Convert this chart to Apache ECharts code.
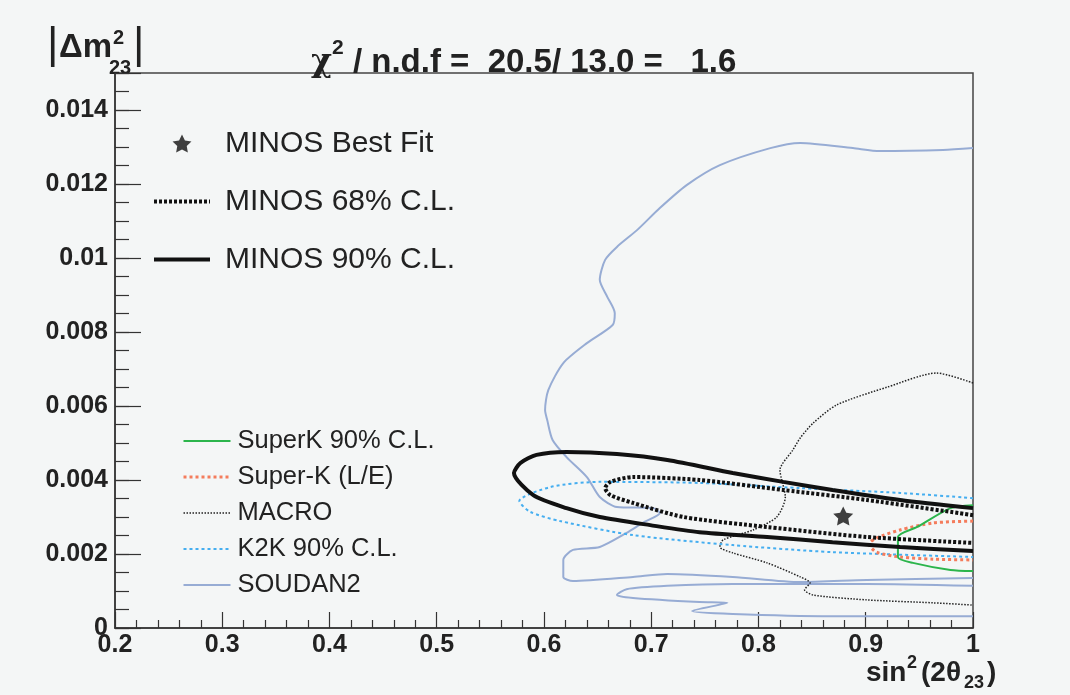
<!DOCTYPE html>
<html>
<head>
<meta charset="utf-8">
<script src="https://cdn.jsdelivr.net/npm/echarts@6/dist/echarts.min.js"></script>
<style>
  html, body { margin: 0; padding: 0; background: #f4f6f6; }
  #chart { width: 1070px; height: 695px; }
</style>
</head>
<body>
<div id="chart"></div>
<script>
// axis ranges (sin^2(2theta23) and |dm^2_23|)
const xRange = [0.2, 1];
const yRange = [0, 0.015];

// MINOS best fit point
const bestFit = [[0.879, 0.00303]];

// MINOS contours
const minos68 = [
  [1.0, 0.00305], [0.901, 0.00346], [0.823, 0.00373], [0.745, 0.004], [0.683, 0.00408],
  [0.662, 0.00395], [0.657, 0.00378], [0.662, 0.00359], [0.683, 0.00338], [0.73, 0.003],
  [0.808, 0.00273], [0.901, 0.00246], [1.0, 0.0023]
];
const minos90 = [
  [1.0, 0.00324], [0.932, 0.00346], [0.869, 0.00373], [0.823, 0.00395], [0.776, 0.00419],
  [0.715, 0.00454], [0.668, 0.0047], [0.621, 0.00476], [0.593, 0.00468], [0.578, 0.00446],
  [0.572, 0.00419], [0.59, 0.00359], [0.621, 0.00324], [0.652, 0.003], [0.699, 0.00278],
  [0.745, 0.00259], [0.808, 0.00246], [0.869, 0.00232], [0.932, 0.00219], [1.0, 0.00208]
];

// other experiments
const superK90 = [
  [1.0, 0.00332], [0.979, 0.00324], [0.948, 0.00273], [0.93, 0.00246], [0.93, 0.00192],
  [0.944, 0.00176], [0.979, 0.00157], [1.0, 0.00154]
];
const superKLE = [
  [1.0, 0.00289], [0.963, 0.00284], [0.932, 0.00265], [0.91, 0.00243], [0.903, 0.00227],
  [0.91, 0.00205], [0.932, 0.00192], [0.963, 0.00186], [1.0, 0.00184]
];
const macro = [
  [1.0, 0.00662], [0.966, 0.00689], [0.92, 0.00651], [0.873, 0.00603], [0.851, 0.00554],
  [0.839, 0.00514], [0.832, 0.00481], [0.82, 0.00427], [0.825, 0.00354], [0.817, 0.003],
  [0.795, 0.00265], [0.767, 0.00238], [0.764, 0.00219], [0.776, 0.00203], [0.808, 0.00176],
  [0.839, 0.00138], [0.848, 0.00122], [0.843, 0.00103], [0.851, 0.00089], [0.901, 0.00076],
  [0.963, 0.00068], [1.0, 0.00062]
];
const k2k90 = [
  [1.0, 0.00351], [0.932, 0.00365], [0.839, 0.00378], [0.745, 0.00392], [0.652, 0.00395],
  [0.606, 0.00381], [0.577, 0.00343], [0.587, 0.00314], [0.615, 0.00289], [0.683, 0.00251],
  [0.776, 0.00224], [0.869, 0.00205], [1.0, 0.00192]
];
const soudan2A = [
  [1.0, 0.01297], [0.972, 0.01292], [0.913, 0.01289], [0.888, 0.01297], [0.839, 0.01311],
  [0.811, 0.01297], [0.764, 0.01251], [0.733, 0.01197], [0.708, 0.01135], [0.687, 0.01076],
  [0.668, 0.0103], [0.657, 0.00995], [0.652, 0.00941], [0.659, 0.00895], [0.666, 0.00851],
  [0.664, 0.00819], [0.64, 0.0077], [0.618, 0.00716], [0.604, 0.00643], [0.601, 0.00589],
  [0.603, 0.00562], [0.608, 0.00508], [0.621, 0.00462], [0.64, 0.00408], [0.652, 0.00354],
  [0.668, 0.00327], [0.702, 0.00324], [0.708, 0.00311], [0.692, 0.00284], [0.677, 0.00257],
  [0.652, 0.00219], [0.627, 0.00211], [0.618, 0.00184], [0.618, 0.00138], [0.627, 0.00127],
  [0.683, 0.00138], [0.715, 0.00146], [0.776, 0.00138], [0.839, 0.00124], [0.901, 0.0013],
  [1.0, 0.00135]
];
const soudan2B = [
  [1.0, 0.00114], [0.901, 0.00119], [0.776, 0.00119], [0.715, 0.00114], [0.677, 0.00105],
  [0.668, 0.00089], [0.683, 0.00081], [0.745, 0.0007], [0.771, 0.00068], [0.738, 0.00046],
  [0.776, 0.00038], [0.869, 0.00032], [1.0, 0.00032]
];

const FONT = "'Liberation Sans', Arial, sans-serif";
const starPath = 'path://M0,-10 L2.94,-4.05 9.51,-3.09 4.76,1.55 5.88,8.09 0,5 -5.88,8.09 -4.76,1.55 -9.51,-3.09 -2.94,-4.05 Z';

var chart = echarts.init(document.getElementById('chart'));

function contour(name, data, color, width, type) {
  return {
    name: name,
    type: 'line',
    data: data,
    symbol: 'none',
    smooth: 0.25,
    clip: true,
    lineStyle: { color: color, width: width, type: type },
    itemStyle: { color: color },
    z: 3
  };
}

// legend entries for lines: hide the marker, keep the line sample
function lineItem(name) {
  return { name: name, itemStyle: { opacity: 0 } };
}

var option = {
  backgroundColor: '#f4f6f6',
  animation: false,
  title: {
    text: '{c|χ}{s|2}{t| / n.d.f =  20.5/ 13.0 =   1.6}',
    left: 306,
    top: 33,
    textStyle: {
      rich: {
        c: { fontFamily: 'DejaVu Serif', fontSize: 32, color: '#222', lineHeight: 41, verticalAlign: 'bottom' },
        s: { fontFamily: FONT, fontSize: 21, fontWeight: 'bold', color: '#222', lineHeight: 21, verticalAlign: 'top' },
        t: { fontFamily: FONT, fontSize: 33, fontWeight: 'bold', color: '#222', lineHeight: 41, verticalAlign: 'bottom' }
      }
    }
  },
  grid: {
    left: 115, right: 97, top: 73, bottom: 67,
    show: true, borderColor: '#444', borderWidth: 1.5, backgroundColor: 'transparent'
  },
  legend: [
    {
      data: ['MINOS Best Fit', lineItem('MINOS 68% C.L.'), lineItem('MINOS 90% C.L.')],
      orient: 'vertical',
      left: 147, top: 123,
      itemWidth: 56, itemHeight: 18, itemGap: 27,
      selectedMode: false,
      lineStyle: { width: 'inherit' },
      textStyle: { fontFamily: FONT, fontSize: 30, color: '#222', lineHeight: 31, padding: [0, 0, 0, 10] }
    },
    {
      data: ['SuperK 90% C.L.', 'Super-K (L/E)', 'MACRO', 'K2K 90% C.L.', 'SOUDAN2'].map(lineItem),
      orient: 'vertical',
      left: 177, top: 423,
      itemWidth: 47, itemHeight: 12, itemGap: 10,
      selectedMode: false,
      lineStyle: { width: 'inherit' },
      textStyle: { fontFamily: FONT, fontSize: 25.5, color: '#222', lineHeight: 25.5, padding: [0, 0, 0, 2] }
    }
  ],
  xAxis: {
    type: 'value',
    min: xRange[0], max: xRange[1], interval: 0.1,
    axisLine: { lineStyle: { color: '#333', width: 1.5 } },
    axisTick: { inside: true, length: 16, lineStyle: { color: '#333', width: 1.2 } },
    minorTick: { show: true, splitNumber: 5, length: 8, lineStyle: { color: '#333', width: 1.2 } },
    splitLine: { show: false },
    axisLabel: {
      margin: 5,
      fontFamily: FONT, fontSize: 25, fontWeight: 'bold', color: '#222',
      formatter: function (v) { return String(+v.toFixed(1)); }
    }
  },
  yAxis: [
    {
      type: 'value',
      min: yRange[0], max: yRange[1], interval: 0.002,
      axisLine: { lineStyle: { color: '#333', width: 1.5 } },
      axisTick: { inside: true, length: 26, lineStyle: { color: '#333', width: 1.2 } },
      splitLine: { show: false },
      axisLabel: {
        margin: 7,
        fontFamily: FONT, fontSize: 25, fontWeight: 'bold', color: '#222',
        formatter: function (v) {
          if (v > 0.0145) return '';
          return String(+v.toFixed(3));
        }
      }
    },
    {
      type: 'value',
      position: 'left',
      min: yRange[0], max: yRange[1], interval: 0.0005,
      axisLine: { show: false },
      axisTick: { inside: true, length: 14, lineStyle: { color: '#333', width: 1.2 } },
      axisLabel: { show: false },
      splitLine: { show: false }
    }
  ],
  graphic: [
    { type: 'text', left: 47, top: 24, style: { text: '|', font: '44px ' + FONT, fill: '#222' } },
    { type: 'text', left: 59, top: 31, style: { text: 'Δm', font: 'bold 33px ' + FONT, fill: '#222' } },
    { type: 'text', left: 113, top: 28, style: { text: '2', font: 'bold 20px ' + FONT, fill: '#222' } },
    { type: 'text', left: 109, top: 58, style: { text: '23', font: 'bold 20px ' + FONT, fill: '#222' } },
    { type: 'text', left: 133, top: 24, style: { text: '|', font: '44px ' + FONT, fill: '#222' } },
    { type: 'text', left: 866, top: 659, style: { text: 'sin', font: 'bold 28px ' + FONT, fill: '#222' } },
    { type: 'text', left: 907, top: 654, style: { text: '2', font: 'bold 18px ' + FONT, fill: '#222' } },
    { type: 'text', left: 921, top: 659, style: { text: '(2θ', font: 'bold 28px ' + FONT, fill: '#222' } },
    { type: 'text', left: 964, top: 674, style: { text: '23', font: 'bold 18px ' + FONT, fill: '#222' } },
    { type: 'text', left: 987, top: 659, style: { text: ')', font: 'bold 28px ' + FONT, fill: '#222' } }
  ],
  series: [
    contour('SOUDAN2', soudan2A, '#97acd4', 2, 'solid'),
    contour('SOUDAN2', soudan2B, '#97acd4', 2, 'solid'),
    contour('MACRO', macro, '#222', 1.5, [1.5, 1.5]),
    contour('K2K 90% C.L.', k2k90, '#45aef0', 2, [3, 3]),
    contour('Super-K (L/E)', superKLE, '#f47c5c', 3, [3, 3]),
    contour('SuperK 90% C.L.', superK90, '#2cb54c', 2, 'solid'),
    contour('MINOS 90% C.L.', minos90, '#111', 4, 'solid'),
    contour('MINOS 68% C.L.', minos68, '#111', 4, [3, 2]),
    {
      name: 'MINOS Best Fit',
      type: 'scatter',
      data: bestFit,
      symbol: starPath,
      symbolSize: 20,
      symbolKeepAspect: true,
      itemStyle: { color: '#111' },
      z: 5
    }
  ]
};

chart.setOption(option);
window.addEventListener('resize', function () {
  chart.resize();
});
</script>
</body>
</html>
